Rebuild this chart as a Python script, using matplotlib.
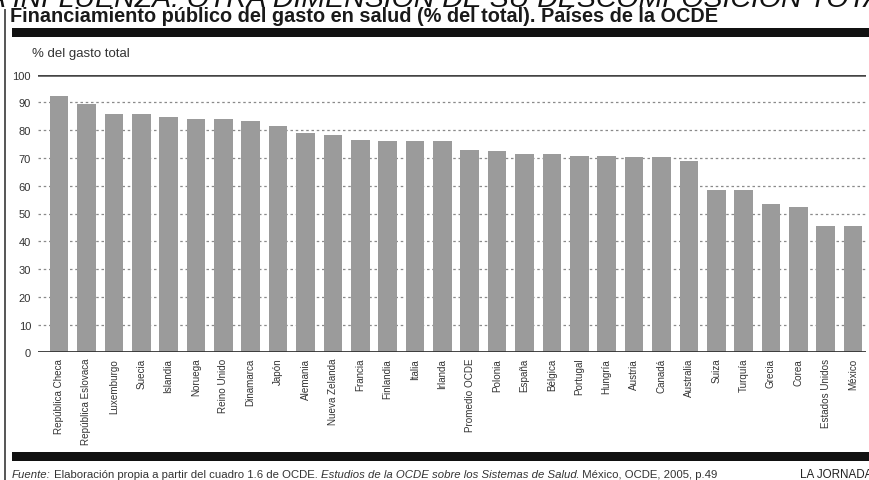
import matplotlib
matplotlib.use("Agg")
import matplotlib.pyplot as plt
from matplotlib.patches import Rectangle
from matplotlib.lines import Line2D

countries = ["República Checa", "República Eslovaca", "Luxemburgo", "Suecia", "Islandia",
             "Noruega", "Reino Unido", "Dinamarca", "Japón", "Alemania", "Nueva Zelanda",
             "Francia", "Finlandia", "Italia", "Irlanda", "Promedio OCDE", "Polonia", "España",
             "Bélgica", "Portugal", "Hungría", "Austria", "Canadá", "Australia", "Suiza",
             "Turquía", "Grecia", "Corea", "Estados Unidos", "México"]
values = [92.4, 89.6, 85.9, 85.9, 84.9, 84.0, 83.9, 83.4, 81.7, 79.1, 78.3,
          76.6, 76.0, 76.0, 76.0, 73.0, 72.5, 71.6, 71.5, 70.7, 70.6, 70.3, 70.2, 69.0,
          58.6, 58.6, 53.3, 52.5, 45.4, 45.4]
yticks = [0, 10, 20, 30, 40, 50, 60, 70, 80, 90, 100]

W, H = 870, 481
fig = plt.figure(figsize=(W / 100, H / 100), dpi=100)
fig.patch.set_facecolor("white")


def fx(x):
    return x / W


def fy(y):
    return 1 - y / H


SANS = ["Liberation Sans", "DejaVu Sans"]
renderer = fig.canvas.get_renderer()

# axes placement (pixels)
left, right, top, bottom = 38, 866, 75.7, 353.3
ax = fig.add_axes([fx(left), fy(bottom), fx(right - left), (bottom - top) / H])
x = list(range(len(countries)))
ax.bar(x, values, width=0.68, color="#9b9b9b", zorder=2)
ax.set_xlim(-0.77, 29.47)
ax.set_ylim(0, 100)
ax.set_yticks(yticks)
ax.set_yticklabels([str(t) for t in yticks], fontsize=8, color="#333333", family=SANS)
ax.tick_params(axis="y", length=0, pad=5)
ax.set_xticks(x)
ax.set_xticklabels(countries, rotation=90, fontsize=7.1, color="#333333", family=SANS,
                   va="top", ha="center")
ax.tick_params(axis="x", length=0, pad=4)
for s in ax.spines.values():
    s.set_visible(False)
for t in yticks[1:-1]:
    ax.axhline(t, color="#8a8a8a", lw=0.9, ls=(0, (2, 2.2)), zorder=1)
ax.axhline(100, color="#444444", lw=1.8, zorder=3)
ax.axhline(0, color="#333333", lw=2.0, zorder=3)

# header cut-off text (only its lower part shows at the top edge)
HFS = 20.5
pre = fig.text(0, 0, "LA ", fontsize=HFS, style="italic", family=SANS)
pre_w = pre.get_window_extent(renderer=renderer).width
pre.remove()
fig.text(fx(13 - pre_w), fy(7), "LA INFLUENZA: OTRA DIMENSIÓN DE SU DESCOMPOSICIÓN TOTAL",
         fontsize=HFS, style="italic", family=SANS, color="#111111", va="baseline", ha="left")
# title
fig.text(fx(10), fy(21.5), "Financiamiento público del gasto en salud (% del total). Países de la OCDE",
         fontsize=14.3, weight="bold", family=SANS, color="#1a1a1a", va="baseline", ha="left")
fig.text(fx(32), fy(57), "% del gasto total", fontsize=9.5, family=SANS, color="#333333",
         va="baseline", ha="left")

# decorative bars and frame line
fig.patches.append(Rectangle((fx(12), fy(37.5)), fx(W - 12), 8.5 / H, transform=fig.transFigure,
                             facecolor="#111111", edgecolor="none", figure=fig))
fig.patches.append(Rectangle((fx(12), fy(462)), fx(W - 12), 9 / H, transform=fig.transFigure,
                             facecolor="#111111", edgecolor="none", figure=fig))
fig.lines.append(Line2D([fx(5.5), fx(5.5)], [fy(11), fy(481)], transform=fig.transFigure,
                        color="#555555", lw=1.4, figure=fig))

# footer with mixed styles
pieces = [("Fuente:", "italic"),
          (" Elaboración propia a partir del cuadro 1.6 de OCDE. ", "normal"),
          ("Estudios de la OCDE sobre los Sistemas de Salud", "italic"),
          (". México, OCDE, 2005, p.49", "normal")]
cur = 12
for txt, st in pieces:
    t = fig.text(fx(cur), fy(478), txt, fontsize=8.2, style=st, family=SANS, color="#333333",
                 va="baseline", ha="left")
    bb = t.get_window_extent(renderer=renderer)
    cur += bb.width
fig.text(fx(800), fy(478), "LA JORNADA", fontsize=8.4, family=SANS, color="#222222",
         va="baseline", ha="left")

fig.savefig("out.png", dpi=100, facecolor="white")
